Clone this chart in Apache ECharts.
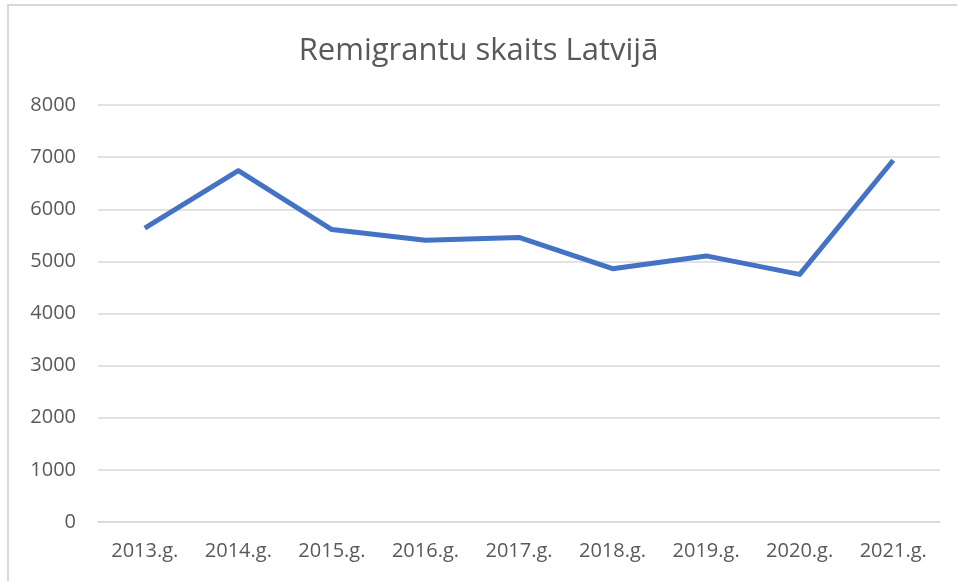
<!DOCTYPE html>
<html>
<head>
<meta charset="utf-8">
<script src="https://cdn.jsdelivr.net/npm/echarts@6/dist/echarts.min.js"></script>
<style>
  html, body { margin: 0; padding: 0; background: #fff; }
  #chart { width: 957px; height: 581px; }
</style>
</head>
<body>
<div id="chart"></div>
<script>
const years = ['2013.g.', '2014.g.', '2015.g.', '2016.g.', '2017.g.', '2018.g.', '2019.g.', '2020.g.', '2021.g.'];
const remigrants = [5640, 6740, 5610, 5405, 5460, 4860, 5105, 4750, 6940];
const yTicks = [0, 1000, 2000, 3000, 4000, 5000, 6000, 7000, 8000];

const textColor = '#595959';
const font = 'Open Sans';

let myChart = echarts.init(document.getElementById('chart'));
myChart.setOption({
  animation: false,
  title: {
    text: 'Remigrantu skaits Latvijā',
    left: 'center',
    top: 31,
    textStyle: {
      color: textColor,
      fontFamily: font,
      fontWeight: 'normal',
      fontSize: 31
    }
  },
  graphic: [
    {
      type: 'polyline',
      shape: { points: [[8, 581], [8, 5], [957, 5]] },
      style: { stroke: '#d9d9d9', lineWidth: 2, fill: null }
    }
  ],
  grid: {
    left: 98,
    right: 17,
    top: 105,
    bottom: 59
  },
  xAxis: {
    type: 'category',
    boundaryGap: true,
    data: years,
    axisLine: { show: true, lineStyle: { color: '#d9d9d9', width: 1.5 } },
    axisTick: { show: false },
    axisLabel: {
      color: textColor,
      fontFamily: font,
      fontSize: 20,
      margin: 19
    }
  },
  yAxis: {
    type: 'value',
    min: yTicks[0],
    max: yTicks[yTicks.length - 1],
    interval: 1000,
    axisLine: { show: false },
    axisTick: { show: false },
    splitLine: { lineStyle: { color: '#d9d9d9', width: 1.5 } },
    axisLabel: {
      color: textColor,
      fontFamily: font,
      fontSize: 20,
      margin: 22,
      formatter: (v) => String(v)
    }
  },
  series: [
    {
      name: 'Remigranti',
      type: 'line',
      data: remigrants,
      symbol: 'none',
      lineStyle: { color: '#4472c4', width: 5, join: 'round' }
    }
  ]
});
</script>
</body>
</html>
